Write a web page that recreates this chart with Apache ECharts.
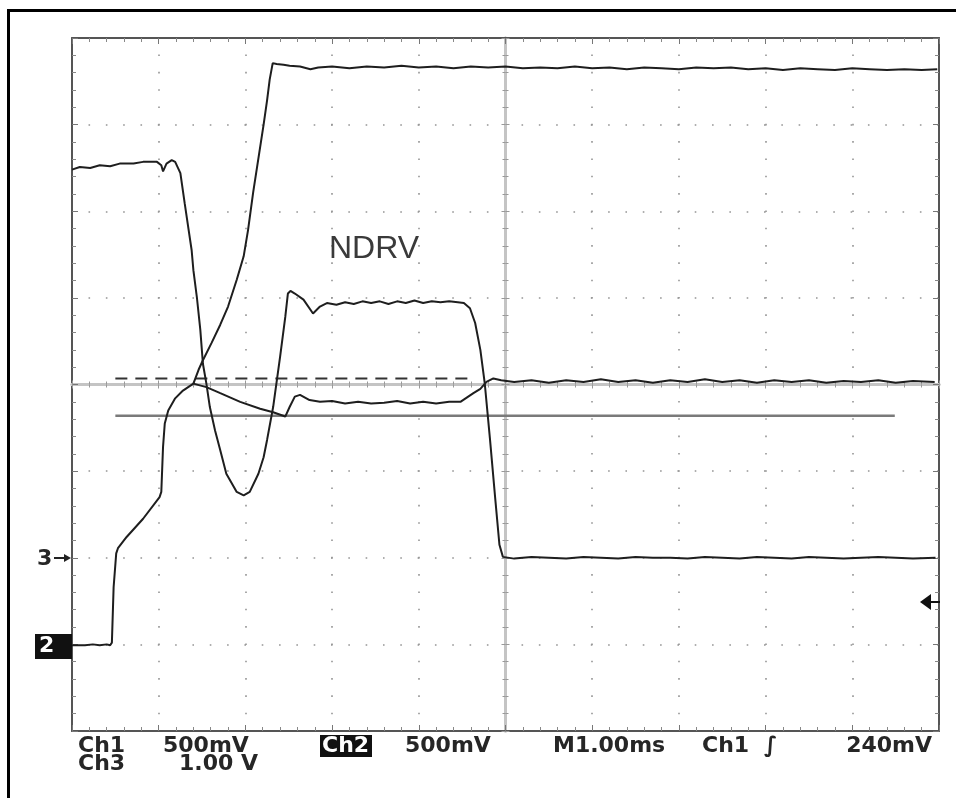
<!DOCTYPE html>
<html>
<head>
<meta charset="utf-8">
<script src="https://cdn.jsdelivr.net/npm/echarts@6/dist/echarts.min.js"></script>
<style>
html,body{margin:0;padding:0;background:#fff;}
#chart{width:956px;height:798px;}
</style>
</head>
<body>
<div id="chart"></div>
<script>
// Time axis: ms relative to the trigger (centre of screen), 1.00 ms / div
// Vertical values: screen divisions (-4 .. 4)
const timeRange = [-5, 5];
const divRange = [-4, 4];

// Ch1 (500 mV/div) – rising trace that settles near the top
const ch1 = [[-3.60,0.01],[-3.54,0.17],[-3.49,0.28],[-3.39,0.48],[-3.29,0.69],[-3.20,0.90],[-3.10,1.21],[-3.02,1.48],[-2.97,1.78],[-2.91,2.22],[-2.85,2.61],[-2.79,3.00],[-2.75,3.28],[-2.72,3.52],[-2.685,3.71],[-2.64,3.70],[-2.56,3.69],[-2.49,3.68],[-2.37,3.67],[-2.25,3.64],[-2.16,3.66],[-2.00,3.67],[-1.80,3.65],[-1.60,3.67],[-1.40,3.66],[-1.20,3.68],[-1.00,3.66],[-0.80,3.67],[-0.60,3.65],[-0.40,3.67],[-0.20,3.66],[0.00,3.67],[0.20,3.65],[0.40,3.66],[0.60,3.65],[0.80,3.67],[1.00,3.65],[1.20,3.66],[1.40,3.64],[1.60,3.66],[1.80,3.65],[2.00,3.64],[2.20,3.66],[2.40,3.65],[2.60,3.66],[2.80,3.64],[3.00,3.65],[3.20,3.63],[3.40,3.65],[3.60,3.64],[3.80,3.63],[4.00,3.65],[4.20,3.64],[4.40,3.63],[4.60,3.64],[4.80,3.63],[4.98,3.64]];

// Ch2 (500 mV/div) – ground marker at -3 div
const ch2 = [[-5.00,-3.01],[-4.85,-3.01],[-4.76,-3.00],[-4.68,-3.01],[-4.60,-3.00],[-4.56,-3.01],[-4.54,-2.98],[-4.52,-2.34],[-4.49,-1.95],[-4.47,-1.89],[-4.37,-1.76],[-4.18,-1.55],[-3.99,-1.30],[-3.97,-1.24],[-3.95,-0.72],[-3.93,-0.45],[-3.89,-0.30],[-3.81,-0.16],[-3.72,-0.07],[-3.60,0.01],[-3.45,-0.03],[-3.29,-0.10],[-3.06,-0.20],[-2.83,-0.28],[-2.68,-0.32],[-2.54,-0.37],[-2.49,-0.26],[-2.43,-0.14],[-2.37,-0.12],[-2.26,-0.18],[-2.14,-0.20],[-2.00,-0.19],[-1.85,-0.22],[-1.70,-0.20],[-1.55,-0.22],[-1.40,-0.21],[-1.25,-0.19],[-1.10,-0.22],[-0.95,-0.20],[-0.80,-0.22],[-0.65,-0.20],[-0.52,-0.20],[-0.37,-0.10],[-0.29,-0.05],[-0.22,0.03],[-0.14,0.07],[-0.05,0.05],[0.10,0.03],[0.30,0.05],[0.50,0.02],[0.70,0.05],[0.90,0.03],[1.10,0.06],[1.30,0.03],[1.50,0.05],[1.70,0.02],[1.90,0.05],[2.10,0.03],[2.30,0.06],[2.50,0.03],[2.70,0.05],[2.90,0.02],[3.10,0.05],[3.30,0.03],[3.50,0.05],[3.70,0.02],[3.90,0.04],[4.10,0.03],[4.30,0.05],[4.50,0.02],[4.70,0.04],[4.95,0.03]];

// Ch3 (1.00 V/div) – NDRV, ground marker at -2 div
const ch3 = [[-5.00,2.48],[-4.91,2.51],[-4.79,2.50],[-4.68,2.53],[-4.56,2.52],[-4.45,2.55],[-4.29,2.55],[-4.18,2.57],[-4.02,2.57],[-3.97,2.53],[-3.95,2.46],[-3.91,2.55],[-3.85,2.59],[-3.81,2.57],[-3.75,2.44],[-3.70,2.09],[-3.66,1.82],[-3.62,1.55],[-3.60,1.32],[-3.56,1.01],[-3.52,0.63],[-3.49,0.24],[-3.45,0.01],[-3.41,-0.26],[-3.35,-0.53],[-3.29,-0.76],[-3.22,-1.03],[-3.10,-1.24],[-3.02,-1.28],[-2.95,-1.24],[-2.85,-1.03],[-2.79,-0.84],[-2.75,-0.64],[-2.68,-0.26],[-2.60,0.32],[-2.54,0.78],[-2.51,1.05],[-2.48,1.08],[-2.43,1.05],[-2.33,0.98],[-2.22,0.82],[-2.14,0.90],[-2.06,0.94],[-1.95,0.92],[-1.85,0.95],[-1.75,0.93],[-1.65,0.96],[-1.55,0.94],[-1.45,0.96],[-1.35,0.93],[-1.25,0.96],[-1.15,0.94],[-1.05,0.97],[-0.95,0.94],[-0.85,0.96],[-0.75,0.95],[-0.65,0.96],[-0.55,0.95],[-0.48,0.94],[-0.41,0.88],[-0.35,0.71],[-0.29,0.40],[-0.24,0.02],[-0.18,-0.62],[-0.12,-1.30],[-0.07,-1.85],[-0.03,-1.99],[0.10,-2.01],[0.30,-1.99],[0.50,-2.00],[0.70,-2.01],[0.90,-1.99],[1.10,-2.00],[1.30,-2.01],[1.50,-1.99],[1.70,-2.00],[1.90,-2.00],[2.10,-2.01],[2.30,-1.99],[2.50,-2.00],[2.70,-2.01],[2.90,-1.99],[3.10,-2.00],[3.30,-2.01],[3.50,-1.99],[3.70,-2.00],[3.90,-2.01],[4.10,-2.00],[4.30,-1.99],[4.50,-2.00],[4.70,-2.01],[4.96,-2.00]];

// Horizontal cursors
const cursorDashed = [[-4.50,0.07],[-0.35,0.07]];
const cursorSolid = [[-4.50,-0.36],[4.49,-0.36]];

// Readout texts
const traceLabel = 'NDRV';
const readoutRow1 = ['Ch1', '500mV', 'Ch2', '500mV', 'M1.00ms', 'Ch1', '\u222B', '240mV'];
const readoutRow2 = ['Ch3', '1.00 V'];
const groundMarkers = ['3', '2'];

const chart = echarts.init(document.getElementById('chart'), null, {renderer: 'canvas'});

const gridDot = {color: '#959595', width: 1.6, type: [1.6, 15.72], dashOffset: 0.8};
function borderAxis(pos, isX, withSplit) {
  return {
    type: 'value', min: isX ? timeRange[0] : divRange[0], max: isX ? timeRange[1] : divRange[1], interval: 1,
    position: pos, gridIndex: 0,
    axisLine: {show: true, onZero: false, lineStyle: {color: '#555', width: 2}},
    axisTick: {show: true, inside: true, length: 6, lineStyle: {color: '#777', width: 1}},
    minorTick: {show: true, splitNumber: 5, length: 4, lineStyle: {color: '#888', width: 1}},
    axisLabel: {show: false},
    splitLine: {show: withSplit, lineStyle: gridDot},
    minorSplitLine: {show: false}
  };
}
function centerAxis(pos, isX, inside) {
  return {
    type: 'value', min: isX ? timeRange[0] : divRange[0], max: isX ? timeRange[1] : divRange[1], interval: 1,
    position: pos, gridIndex: 0,
    axisLine: {show: true, onZero: true, onZeroAxisIndex: 0, lineStyle: {color: '#c4c4c4', width: 3}},
    axisTick: {show: true, inside: inside, length: 4, lineStyle: {color: '#999', width: 1}},
    minorTick: {show: true, splitNumber: 5, length: 3, lineStyle: {color: '#999', width: 1}},
    axisLabel: {show: false},
    splitLine: {show: false}
  };
}

const textFont = 'bold 22px "DejaVu Sans", sans-serif';
const txtColor = '#262626';
function txt(x, y, s, align, color) {
  return {type: 'text', x: x, y: y, z: 100, style: {text: s, font: textFont, fill: color || txtColor, align: align || 'left', verticalAlign: 'middle'}};
}

const option = {
  animation: false,
  backgroundColor: '#fff',
  grid: {left: 72, top: 38, width: 867, height: 693, show: false, outerBoundsMode: 'none', containLabel: false},
  xAxis: [borderAxis('bottom', true, true), borderAxis('top', true, false), centerAxis('bottom', true, true), centerAxis('bottom', true, false)],
  yAxis: [borderAxis('left', false, true), borderAxis('right', false, false), centerAxis('left', false, true), centerAxis('left', false, false)],
  series: [
    {type: 'line', data: cursorSolid, showSymbol: false, silent: true, lineStyle: {color: '#7a7a7a', width: 2.5}, z: 3},
    {type: 'line', data: cursorDashed, showSymbol: false, silent: true, lineStyle: {color: '#333', width: 2, type: [12, 8]}, z: 3},
    {type: 'line', data: ch3, showSymbol: false, silent: true, lineStyle: {color: '#1e1e1e', width: 2}, z: 5},
    {type: 'line', data: ch2, showSymbol: false, silent: true, lineStyle: {color: '#1e1e1e', width: 2}, z: 5},
    {type: 'line', data: ch1, showSymbol: false, silent: true, lineStyle: {color: '#1e1e1e', width: 2}, z: 5}
  ],
  graphic: [
    {type: 'rect', z: 100, shape: {x: 8.5, y: 10.5, width: 960, height: 800}, style: {fill: 'none', stroke: '#000', lineWidth: 3}},
    {type: 'text', x: 374, y: 249, z: 100, style: {text: traceLabel, font: '32px "Liberation Sans", Arial, sans-serif', fill: '#3a3a3a', align: 'center', verticalAlign: 'middle'}},
    // Ch3 ground marker
    txt(37, 559, groundMarkers[0]),
    {type: 'line', z: 100, shape: {x1: 54, y1: 558, x2: 66, y2: 558}, style: {stroke: '#222', lineWidth: 2}},
    {type: 'polygon', z: 100, shape: {points: [[71, 558], [64, 554], [64, 562]]}, style: {fill: '#222'}},
    // Ch2 ground marker
    {type: 'rect', z: 100, shape: {x: 35, y: 634, width: 37, height: 25}, style: {fill: '#111'}},
    txt(39, 646, groundMarkers[1], 'left', '#fff'),
    // Trigger level marker on the right
    {type: 'polygon', z: 100, shape: {points: [[920, 602], [931, 594], [931, 610]]}, style: {fill: '#111'}},
    {type: 'line', z: 100, shape: {x1: 929, y1: 602, x2: 940, y2: 602}, style: {stroke: '#111', lineWidth: 2}},
    // Readout row 1
    txt(78, 746, readoutRow1[0]),
    txt(163, 746, readoutRow1[1]),
    {type: 'rect', z: 99, shape: {x: 320, y: 735, width: 52, height: 22}, style: {fill: '#111'}},
    txt(322, 746, readoutRow1[2], 'left', '#fff'),
    txt(405, 746, readoutRow1[3]),
    txt(553, 746, readoutRow1[4]),
    txt(702, 746, readoutRow1[5]),
    txt(764, 746, readoutRow1[6]),
    txt(932, 746, readoutRow1[7], 'right'),
    // Readout row 2
    txt(78, 764, readoutRow2[0]),
    txt(258, 764, readoutRow2[1], 'right')
  ]
};
chart.setOption(option);
</script>
</body>
</html>
